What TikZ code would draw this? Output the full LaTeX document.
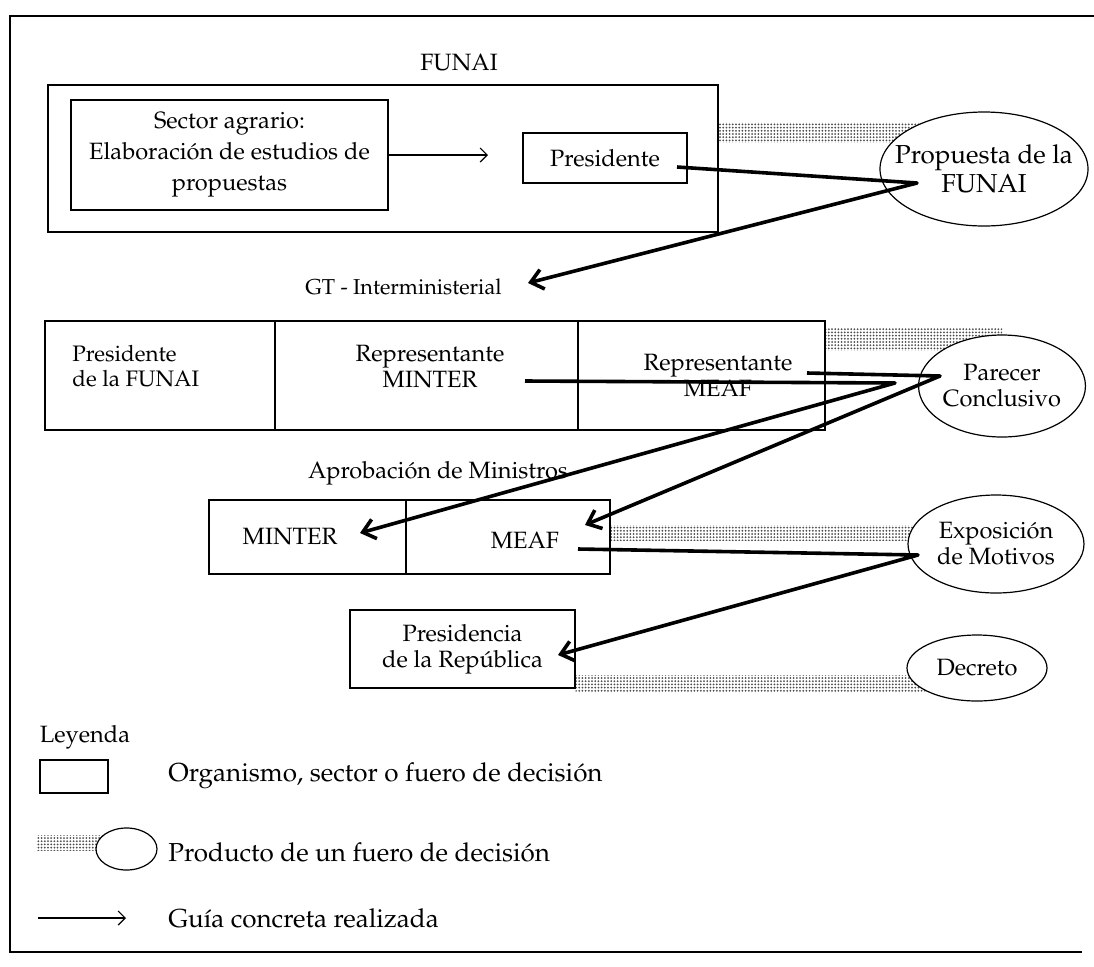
\documentclass[tikz,border=0pt]{standalone}
\usepackage[T1]{fontenc}
\usepackage{palatino}
\usetikzlibrary{shapes.geometric,arrows.meta,patterns.meta,backgrounds}

\begin{document}
\begin{tikzpicture}[x=0.5pt, y=-0.5pt,
    every node/.style={font=\fontsize{11.8}{13}\selectfont, inner sep=0pt},
    box/.style={draw, line width=0.6pt, inner sep=0pt},
    prod/.style={ellipse, draw, line width=0.6pt, fill=white, align=center, inner sep=0pt},
    bar/.style={pattern={Dots[distance=1.6pt, radius=0.5pt]}, pattern color=black!70},
    guide/.style={line width=1.8pt, line join=round, -{Straight Barb[length=6pt, width=10pt]}},
    thin/.style={line width=0.6pt, -{Straight Barb[length=3.5pt, width=7pt]}},
    leg/.style={anchor=west, font=\fontsize{13}{15}\selectfont}]

	\useasboundingbox (0,0) rectangle (1094,966);
	\draw[line width=0.6pt] (1094,16) -- (10,16) -- (10,952) -- (1082,952);

	\node (funaiT) at (459,63) {FUNAI};
	\node[box, minimum width=335pt, minimum height=73.5pt] (funai) at (383,158.5) {};
	\node[box, minimum width=158.5pt, minimum height=55pt, align=center, font=\fontsize{11.8}{15.5}\selectfont] (sector) at (229.5,155) {Sector agrario:\\Elaboración de estudios de\\propuestas};
	\node[box, minimum width=82pt, minimum height=25pt] (pres) at (605,158) {Presidente};
	\node[prod, minimum width=104pt, minimum height=57pt, inner sep=-9pt, font=\fontsize{13}{14.5}\selectfont] (prop) at (984,169) {Propuesta de la\\FUNAI};

	\node[anchor=east, font=\fontsize{10.8}{13}\selectfont] (gtT) at (502,287) {GT - Interministerial};
	\node[box, minimum width=390pt, minimum height=54.5pt] (gt) at (435,375.5) {};
	\draw[line width=0.6pt] (gt.north -| 275,0) -- (gt.south -| 275,0);
	\draw[line width=0.6pt] (gt.north -| 578,0) -- (gt.south -| 578,0);
	\node[anchor=west, align=left, font=\fontsize{11.2}{12.5}\selectfont] (gtPres) at (72,366) {Presidente\\de la FUNAI};
	\node[align=center] (gtMinter) at (430,367) {Representante\\MINTER};
	\node[align=center] (gtMeaf) at (718,375) {Representante\\MEAF};
	\node[prod, minimum width=81pt, minimum height=51pt] (parecer) at (1002,386) {Parecer\\Conclusivo};

	\node (aprT) at (438,473) {Aprobación de Ministros};
	\node[box, minimum width=200.5pt, minimum height=37pt] (apr) at (409.5,537) {};
	\draw[line width=0.6pt] (apr.north -| 406,0) -- (apr.south -| 406,0);
	\node (minter) at (290,537) {MINTER};
	\node (meaf) at (525,540) {MEAF};
	\node[prod, minimum width=88pt, minimum height=49pt] (expo) at (996,544) {Exposición\\de Motivos};

	\node[box, minimum width=112.5pt, minimum height=39pt, align=center] (presi) at (462.5,649) {Presidencia\\de la República};
	\node[prod, minimum width=70pt, minimum height=33pt] (decreto) at (977,668) {Decreto};

	\node (ley) at (85,737) {Leyenda};
	\node[box, minimum width=34pt, minimum height=16.5pt] (lbox) at (74,776.5) {};
	\node[leg] (ltxt1) at (168,776) {Organismo, sector o fuero de decisión};
	\node[prod, minimum width=30.5pt, minimum height=21pt] (lell) at (126.5,849) {};
	\node[leg] (ltxt2) at (168,852) {Producto de un fuero de decisión};
	\node[leg] (ltxt3) at (168,918) {Guía concreta realizada};

	\begin{scope}[on background layer]
		\fill[bar] (funai.east |- 0,122) rectangle (prop.center |- 0,142);
		\fill[bar] (gt.east |- 0,328) rectangle (parecer.center |- 0,350);
		\fill[bar] (apr.east |- 0,525) rectangle (expo.center |- 0,540);
		\fill[bar] (presi.east |- 0,675) rectangle (decreto.center |- 0,691);
		\fill[bar] (36,835) rectangle (lell.center |- 0,850);
	\end{scope}

	\coordinate (secTip) at (488,155);
	\coordinate (presOut) at (677,167);
	\coordinate (propIn) at (917,183);
	\coordinate (gtIn) at (528,283);
	\coordinate (minOut) at (525,381);
	\coordinate (minTurn) at (895,383);
	\coordinate (minIn) at (360,533);
	\coordinate (meafOut) at (807,373);
	\coordinate (parIn) at (940,376);
	\coordinate (meafIn) at (585,525);
	\coordinate (aprOut) at (578,549);
	\coordinate (expIn) at (918,555);
	\coordinate (presiIn) at (558,655);
	\coordinate (lgA) at (38,918);
	\coordinate (lgB) at (126,918);

	\draw[thin] (sector.east) -- (secTip);
	\draw[guide] (presOut) -- (propIn) -- (gtIn);
	\draw[guide] (minOut) -- (minTurn) -- (minIn);
	\draw[guide] (meafOut) -- (parIn) -- (meafIn);
	\draw[guide] (aprOut) -- (expIn) -- (presiIn);
	\draw[thin] (lgA) -- (lgB);
\end{tikzpicture}
\end{document}
